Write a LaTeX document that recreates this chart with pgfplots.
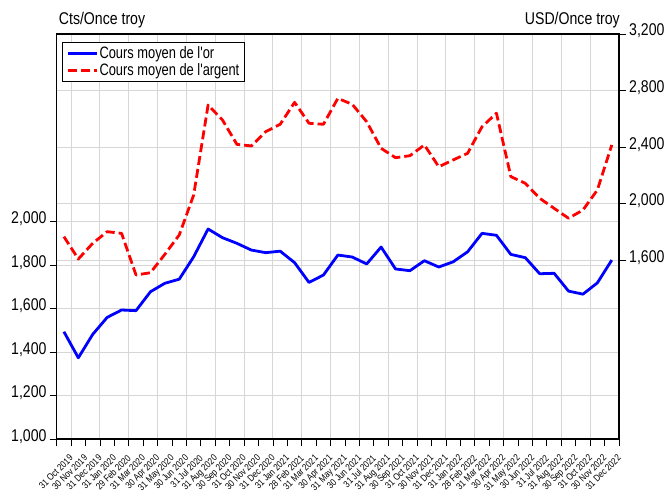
\documentclass[border=0pt]{standalone}
\usepackage{fontspec}
\setmainfont{Liberation Sans}[FakeStretch=0.83]
\newfontfamily\legendfont{Liberation Sans}[FakeStretch=0.78]
\usepackage{pgfplots}
\pgfplotsset{compat=1.18}
\usepackage{pgfplotstable}

\definecolor{gridgray}{RGB}{214,214,214}

% monthly averages, index 0 = Oct 2019 ... 38 = Dec 2022
\pgfplotstableread{
idx or argent
0 1494 1768
1 1374 1610
2 1482 1721
3 1560 1803
4 1594 1791
5 1591 1497
6 1678 1513
7 1717 1643
8 1736 1780
9 1839 2062
10 1967 2698
11 1927 2592
12 1901 2420
13 1870 2409
14 1858 2510
15 1865 2562
16 1812 2717
17 1721 2569
18 1755 2562
19 1847 2745
20 1838 2703
21 1806 2580
22 1884 2392
23 1783 2326
24 1775 2340
25 1821 2416
26 1792 2262
27 1816 2310
28 1862 2357
29 1947 2545
30 1938 2640
31 1850 2192
32 1835 2145
33 1761 2039
34 1763 1968
35 1681 1898
36 1667 1956
37 1719 2098
38 1824 2416
}\cours

\pgfplotsset{
  common/.style={
    scale only axis, width=562.3pt, height=405pt,
    at={(0pt,0pt)}, anchor=south west,
    xmin=-0.5, xmax=38.5,
    /pgf/number format/assume math mode=true,
    /pgf/number format/1000 sep={,},
    tick style={black, line width=0.9pt},
    major tick length=7pt, minor tick length=7pt,
    tick align=outside,
    axis line style={black, line width=1.2pt},
    grid style={gridgray, line width=1pt},
    ticklabel style={font=\fontsize{17}{17}\selectfont},
    clip mode=individual,
  },
}

\begin{document}
\begin{tikzpicture}
\useasboundingbox (-56.7pt,-56pt) rectangle (614.3pt,439pt);

% vertical grid and right-scale horizontal grid
\begin{axis}[common, ymin=338, ymax=3200,
  ytick={1600,2000,...,3200}, xtick={0.5,2.5,...,36.5},
  grid=major, xticklabels={}, yticklabels={},
  major tick length=0pt, axis line style={draw=none}]
\end{axis}

% left scale: gold
\begin{axis}[common, ymin=1000, ymax=2865,
  ytick={1000,1200,...,2000}, ytick pos=left, ymajorgrids,
  yticklabel style={anchor=base east, yshift=-2pt, inner xsep=3pt},
  xtick={0,...,38}, xtick pos=bottom,
  major x tick style={draw=none},
  minor xtick={-0.5,0.5,...,38.5},
  xticklabel style={font=\fontsize{9.6}{9.6}\selectfont, rotate=45, anchor=north east, inner sep=0pt, yshift=-9pt, xshift=-2pt},
  xticklabels={31 Oct 2019,30 Nov 2019,31 Dec 2019,31 Jan 2020,29 Feb 2020,31 Mar 2020,30 Apr 2020,31 May 2020,30 Jun 2020,31 Jul 2020,31 Aug 2020,30 Sep 2020,31 Oct 2020,30 Nov 2020,31 Dec 2020,31 Jan 2021,28 Feb 2021,31 Mar 2021,30 Apr 2021,31 May 2021,30 Jun 2021,31 Jul 2021,31 Aug 2021,30 Sep 2021,31 Oct 2021,30 Nov 2021,31 Dec 2021,31 Jan 2022,28 Feb 2022,31 Mar 2022,30 Apr 2022,31 May 2022,30 Jun 2022,31 Jul 2022,31 Aug 2022,30 Sep 2022,31 Oct 2022,30 Nov 2022,31 Dec 2022}]
\addplot[blue, line width=2.8pt, line join=round] table[x=idx, y=or]{\cours};
\node[anchor=base west, inner sep=0pt, font=\fontsize{17}{17}\selectfont] at ([xshift=2pt, yshift=9pt]rel axis cs:0,1) {Cts/Once troy};
\node[anchor=base east, inner sep=0pt, font=\fontsize{17}{17}\selectfont] at ([xshift=1pt, yshift=9pt]rel axis cs:1,1) {USD/Once troy};
\end{axis}

% right scale: silver
\begin{axis}[common, ymin=338, ymax=3200,
  ytick={1600,2000,...,3200}, ytick pos=right, xtick=\empty,
  yticklabel style={anchor=base west, yshift=-2pt, inner xsep=3pt},
  legend cell align=left,
  legend image code/.code={\draw[#1] (0pt,0pt) -- (28.7pt,0pt);},
  legend style={at={(rel axis cs:0,1)}, anchor=north west, xshift=5.3pt, yshift=-8pt,
    draw=black, line width=1pt, inner xsep=4pt, inner ysep=3pt, row sep=0pt,
    nodes={inner xsep=1.5pt, inner ysep=1.5pt, font=\legendfont\fontsize{16.5}{17}\selectfont}}]
\addlegendimage{blue, line width=2.8pt}
\addlegendentry{Cours moyen de l'or}
\addplot[red, line width=2.8pt, line join=round, dash pattern=on 9pt off 4pt] table[x=idx, y=argent]{\cours};
\addlegendentry{Cours moyen de l'argent}
\end{axis}
\end{tikzpicture}
\end{document}
